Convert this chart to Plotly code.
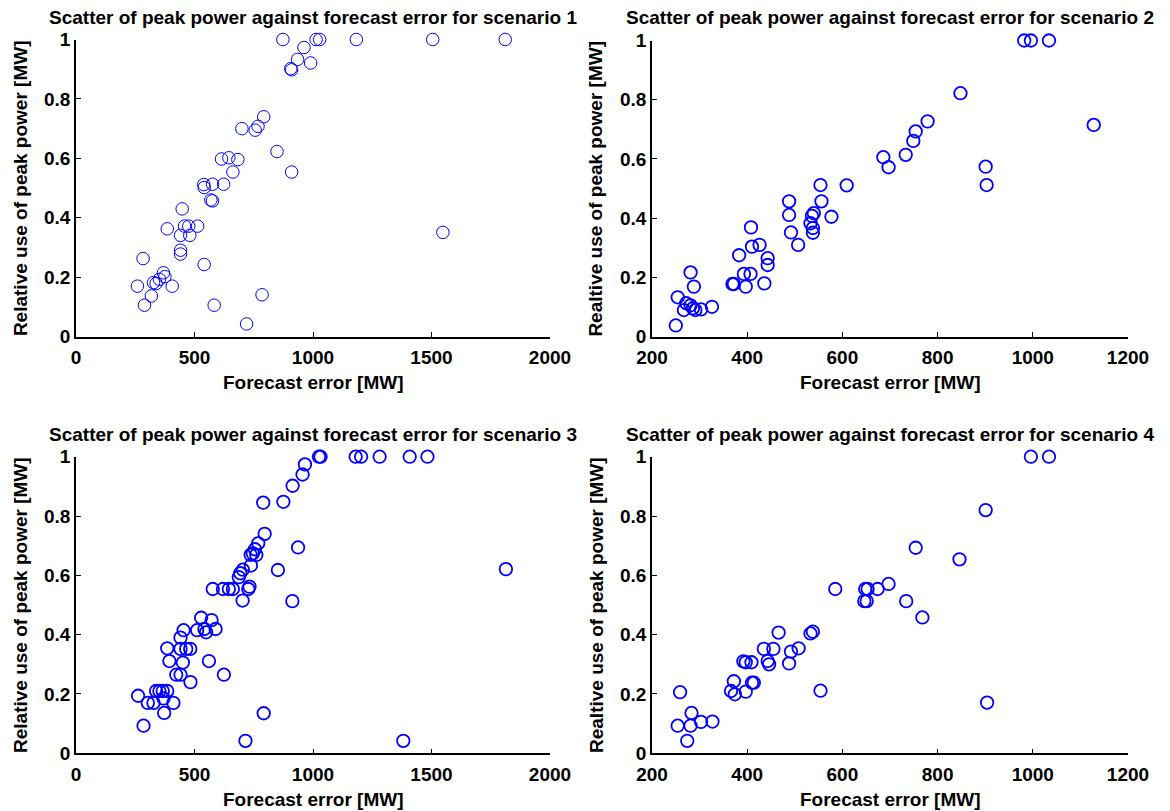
import plotly.graph_objects as go

# Scenario 1: forecast error [MW] vs relative use of peak power
s1_err = [873, 962, 1013, 1028, 1183, 935, 990, 906, 910, 792, 768, 756, 700, 848, 910,
          614, 645, 683, 662, 539, 541, 576, 623, 569, 576, 448, 385, 458, 476, 513,
          441, 480, 441, 441, 541, 283, 369, 375, 352, 327, 338, 259, 406, 318, 289,
          583, 785, 720, 1505, 1811, 1548]
s1_use = [1.0, 0.973, 1.0, 1.0, 1.0, 0.933, 0.921, 0.902, 0.898, 0.740, 0.708, 0.695, 0.700, 0.623, 0.554,
          0.598, 0.602, 0.596, 0.554, 0.512, 0.502, 0.513, 0.513, 0.460, 0.457, 0.430, 0.363, 0.372, 0.372, 0.372,
          0.341, 0.341, 0.291, 0.278, 0.243, 0.263, 0.215, 0.202, 0.193, 0.182, 0.179, 0.170, 0.170, 0.137, 0.106,
          0.106, 0.141, 0.043, 1.0, 1.0, 0.351]

# Scenario 2
s2_err = [250, 254, 272, 267, 281, 288, 281, 286, 291, 303, 326, 369, 372, 383, 393,
          407, 397, 408, 410, 426, 443, 443, 436, 488, 488, 492, 507, 533, 536, 540,
          538, 538, 554, 556, 577, 609, 686, 697, 733, 749, 754, 779, 848, 901, 903,
          982, 996, 1034, 1128]
s2_use = [0.038, 0.133, 0.113, 0.090, 0.217, 0.169, 0.106, 0.096, 0.090, 0.092, 0.101, 0.178, 0.178, 0.275, 0.212,
          0.212, 0.169, 0.369, 0.304, 0.310, 0.265, 0.242, 0.180, 0.457, 0.411, 0.352, 0.310, 0.383, 0.408, 0.417,
          0.367, 0.351, 0.512, 0.457, 0.405, 0.511, 0.606, 0.572, 0.614, 0.661, 0.693, 0.727, 0.822, 0.574, 0.512,
          1.0, 1.0, 1.0, 0.715]

# Scenario 3
s3_err = [1025, 1032, 1180, 1203, 1281, 1408, 1483, 966, 956, 914, 875, 790, 796, 769, 755,
          746, 761, 737, 738, 704, 693, 687, 937, 852, 577, 620, 645, 662, 732, 727,
          703, 913, 528, 572, 511, 542, 549, 589, 454, 441, 385, 394, 441, 465, 482,
          451, 561, 423, 441, 483, 624, 338, 352, 366, 385, 262, 303, 327, 411, 372,
          369, 285, 792, 715, 1814, 1381]
s3_use = [1.0, 1.0, 1.0, 1.0, 1.0, 1.0, 1.0, 0.974, 0.940, 0.902, 0.848, 0.845, 0.740, 0.708, 0.688,
          0.674, 0.669, 0.669, 0.633, 0.619, 0.607, 0.594, 0.694, 0.618, 0.554, 0.554, 0.554, 0.554, 0.562, 0.554,
          0.515, 0.513, 0.457, 0.449, 0.415, 0.419, 0.408, 0.419, 0.415, 0.390, 0.354, 0.311, 0.352, 0.352, 0.352,
          0.306, 0.311, 0.265, 0.265, 0.240, 0.265, 0.210, 0.210, 0.210, 0.210, 0.194, 0.170, 0.170, 0.170, 0.136,
          0.185, 0.093, 0.135, 0.042, 0.621, 0.042]

# Scenario 4
s4_err = [259, 254, 281, 274, 283, 303, 327, 366, 372, 374, 397, 392, 397, 409, 410,
          414, 435, 443, 446, 455, 466, 488, 492, 508, 533, 538, 554, 585, 646, 648,
          651, 653, 674, 697, 734, 754, 768, 846, 901, 904, 996, 1034]
s4_use = [0.206, 0.093, 0.093, 0.042, 0.136, 0.106, 0.107, 0.210, 0.243, 0.199, 0.208, 0.310, 0.307, 0.307, 0.238,
          0.238, 0.352, 0.311, 0.300, 0.352, 0.407, 0.303, 0.343, 0.354, 0.404, 0.410, 0.211, 0.554, 0.513, 0.554,
          0.513, 0.554, 0.554, 0.571, 0.513, 0.693, 0.458, 0.654, 0.820, 0.171, 1.0, 1.0]

titles = [f"Scatter of peak power against forecast error for scenario {i}" for i in range(1, 5)]
y_titles = ["Relative use of peak power [MW]", "Realtive use of peak power [MW]",
            "Relative use of peak power [MW]", "Realtive use of peak power [MW]"]
x_title = "Forecast error [MW]"

wide_ticks = [0, 500, 1000, 1500, 2000]
narrow_ticks = [200, 400, 600, 800, 1000, 1200]
y_ticks = [0, 0.2, 0.4, 0.6, 0.8, 1]
y_tick_text = ["0", "0.2", "0.4", "0.6", "0.8", "1"]

W, H = 1170, 811
FONT = "Liberation Sans, Arial, sans-serif"
BLUE = "#0000FF"

# pixel boxes of each axes: (left, right, top, bottom)
boxes = [(76, 550, 39.5, 336.7), (652, 1128, 40.5, 336.7),
         (76, 550, 456.7, 753.3), (652, 1128, 456.7, 753.3)]

fig = go.Figure()
series = [(s1_err, s1_use, 1.0), (s2_err, s2_use, 1.8), (s3_err, s3_use, 1.8), (s4_err, s4_use, 1.8)]
for i, (xs, ys, lw) in enumerate(series):
    sfx = "" if i == 0 else str(i + 1)
    fig.add_trace(go.Scatter(
        x=xs, y=ys, mode="markers", xaxis="x" + sfx, yaxis="y" + sfx,
        marker=dict(symbol="circle-open", size=12.5, color=BLUE, line=dict(width=lw, color=BLUE)),
        cliponaxis=False, showlegend=False, hoverinfo="x+y"))

bold = dict(size=19, family=FONT, weight="bold", color="black")
layout = dict(template="none", width=W, height=H, margin=dict(l=0, r=0, t=0, b=0, pad=0),
              paper_bgcolor="white", plot_bgcolor="white", font=bold)
annotations = []
for i, (l, r, t, b) in enumerate(boxes):
    sfx = "" if i == 0 else str(i + 1)
    wide = i in (0, 2)
    layout["xaxis" + sfx] = dict(
        domain=[l / W, r / W], anchor="y" + sfx, automargin=False,
        range=[0, 2000] if wide else [200, 1200],
        tickmode="array", tickvals=wide_ticks if wide else narrow_ticks,
        ticks="inside", ticklen=5, tickwidth=1, tickcolor="black", ticklabelstandoff=3,
        showline=True, linecolor="black", linewidth=1.5, showgrid=False, zeroline=False,
        tickfont=bold)
    layout["yaxis" + sfx] = dict(
        domain=[1 - b / H, 1 - t / H], anchor="x" + sfx, automargin=False, range=[0, 1],
        tickmode="array", tickvals=y_ticks, ticktext=y_tick_text,
        ticks="inside", ticklen=5, tickwidth=1, tickcolor="black",
        showline=True, linecolor="black", linewidth=1.5, showgrid=False, zeroline=False,
        tickfont=bold)
    cx = (l + r) / 2
    title_y = 18 if i < 2 else 434
    annotations.append(dict(text=titles[i], x=cx / W, y=1 - title_y / H, xref="paper", yref="paper",
                            showarrow=False, xanchor="center", yanchor="middle", font=bold))
    annotations.append(dict(text=x_title, x=cx / W, y=1 - (b + 46) / H, xref="paper", yref="paper",
                            showarrow=False, xanchor="center", yanchor="middle", font=bold))
    annotations.append(dict(text=y_titles[i], x=(l - 56) / W, y=1 - (t + b) / 2 / H, xref="paper", yref="paper",
                            showarrow=False, xanchor="center", yanchor="middle", textangle=-90, font=bold))
layout["annotations"] = annotations
fig.update_layout(**layout)
fig.write_html("out.html")
